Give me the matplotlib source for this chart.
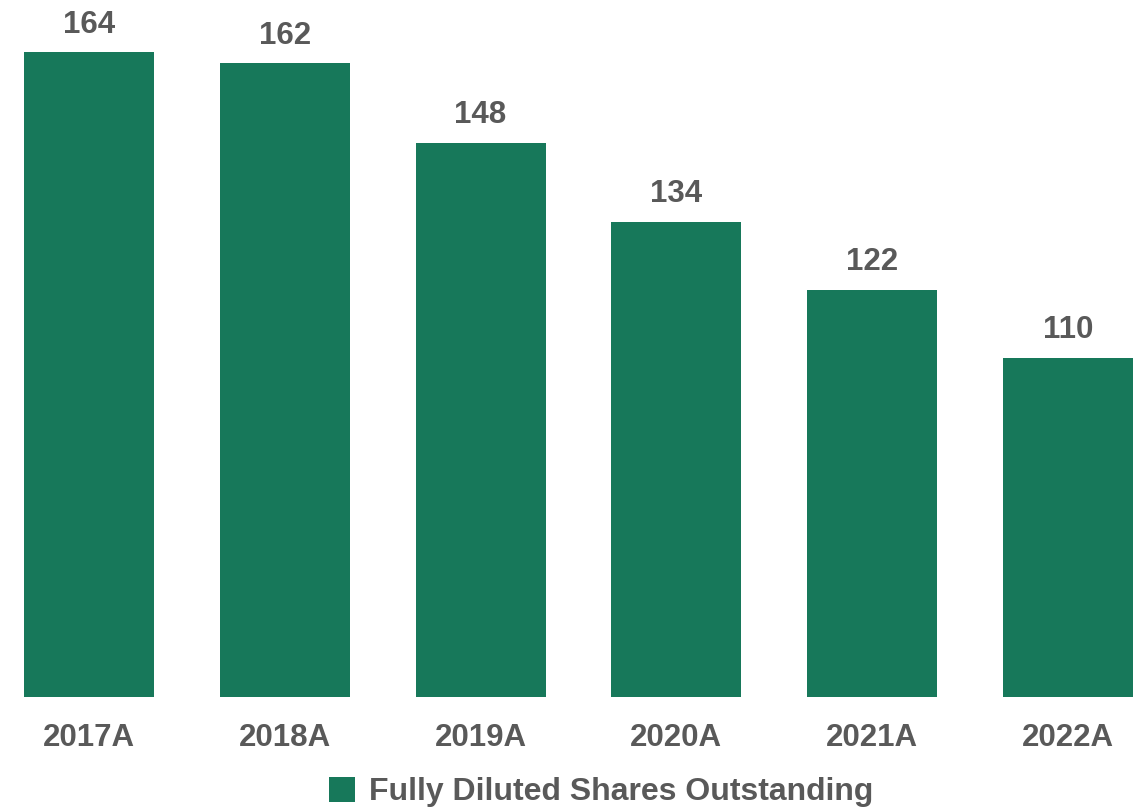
import matplotlib
matplotlib.use("Agg")
import matplotlib.pyplot as plt

# Daten
jahre = ["2017A", "2018A", "2019A", "2020A", "2021A", "2022A"]
aktien = [164, 162, 148, 134, 122, 110]

gruen = "#17785A"
grau = "#595959"
plt.rcParams['font.family'] = ['Liberation Sans', 'DejaVu Sans']

W, H = 1145, 811
fig = plt.figure(figsize=(W / 100, H / 100), dpi=100)
# Achse in Pixelkoordinaten: links 24, rechts 1133, unten 697 (von oben), oben 0
ax = fig.add_axes([24 / W, (H - 697) / H, (1133 - 24) / W, 697 / H])

breite = 0.663
x = range(len(jahre))
bars = ax.bar(x, aktien, width=breite, color=gruen, bottom=0,
              label="Fully Diluted Shares Outstanding")
ax.set_xlim(-breite / 2, len(jahre) - 1 + breite / 2)
ax.set_ylim(50, 173.2)

for xi, v in zip(x, aktien):
    ax.annotate(str(v), (xi, v), xytext=(0, 9), textcoords="offset points",
                ha="center", va="bottom", fontsize=22.5, fontweight="bold", color=grau)

ax.set_xticks(list(x))
ax.set_xticklabels(jahre, fontsize=22.5, fontweight="bold", color=grau)
ax.tick_params(axis="x", length=0, pad=19)
ax.set_yticks([])
for s in ax.spines.values():
    s.set_visible(False)

fig.legend(handles=[bars], loc="center", bbox_to_anchor=(601 / W, (H - 792) / H),
           frameon=False, prop={"size": 23, "weight": "bold"},
           handlelength=0.82, handleheight=0.82, handletextpad=0.44,
           labelcolor=grau)

fig.savefig("out.png", dpi=100)
